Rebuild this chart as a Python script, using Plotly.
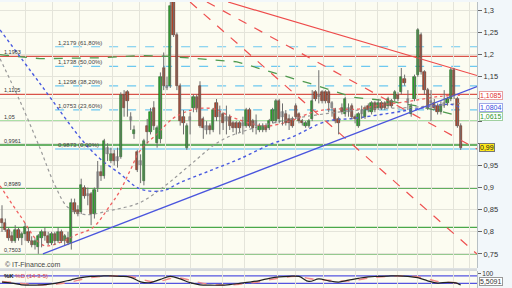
import plotly.graph_objects as go

# ---------------- data ----------------
O = [.83,.82,.805,.79,.78,.805,.785,.795,.80,.78,
     .77,.765,.785,.80,.79,.775,.795,.78,.80,.78,
     .785,.775,.865,.85,.845,.90,.88,.885,.84,.90,
     .935,.925,.99,.96,.975,.96,.97,1.11,1.115,1.06,
     1.02,.98,.96,.915,1.04,1.025,1.08,1.0,1.01,1.17,
     1.13,1.13,1.32,1.245,1.13,1.06,.99,1.06,1.08,1.105,
     1.13,1.055,1.04,1.04,1.03,1.09,1.07,1.065,1.06,1.06,
     1.045,1.045,1.045,1.04,1.04,1.075,1.05,1.04,1.03,1.03,
     1.04,1.035,1.05,1.05,1.095,1.06,1.065,1.055,1.055,1.085,
     1.065,1.05,1.04,1.04,1.055,1.115,1.105,1.115,1.115,1.115,
     1.09,1.075,1.055,1.08,1.065,1.08,1.085,1.06,1.04,1.065,
     1.06,1.085,1.07,1.09,1.08,1.09,1.09,1.085,1.095,1.10,
     1.11,1.115,1.145,1.10,1.065,1.10,1.155,1.245,1.16,1.12,
     1.09,1.09,1.085,1.07,1.085,1.09,1.10,1.165,1.10,1.04]
H = [.86,.83,.81,.80,.815,.81,.80,.82,.81,.79,
     .785,.795,.805,.81,.80,.80,.80,.81,.805,.795,
     .80,.875,.875,.86,.92,.905,.90,.89,.90,.96,
     .95,1.01,1.0,.99,.985,.99,1.115,1.12,1.12,1.07,
     1.04,.985,.975,1.01,1.055,1.08,1.095,1.04,1.16,1.205,
     1.15,1.325,1.325,1.25,1.135,1.075,1.045,1.07,1.11,1.11,
     1.14,1.06,1.05,1.045,1.08,1.10,1.085,1.07,1.085,1.065,
     1.05,1.05,1.05,1.06,1.08,1.08,1.055,1.065,1.045,1.045,
     1.045,1.055,1.08,1.10,1.10,1.09,1.075,1.065,1.06,1.09,
     1.07,1.055,1.05,1.055,1.12,1.12,1.165,1.12,1.12,1.12,
     1.095,1.08,1.06,1.09,1.105,1.09,1.09,1.065,1.07,1.085,
     1.085,1.09,1.095,1.095,1.10,1.095,1.095,1.105,1.10,1.12,
     1.115,1.17,1.155,1.12,1.09,1.155,1.26,1.25,1.165,1.125,
     1.12,1.10,1.09,1.095,1.12,1.105,1.17,1.17,1.105,1.045]
L = [.80,.80,.78,.775,.775,.78,.77,.78,.775,.765,
     .76,.7503,.765,.78,.77,.77,.77,.775,.775,.77,
     .77,.76,.84,.835,.84,.875,.86,.815,.83,.89,
     .915,.92,.96,.955,.95,.945,.965,1.06,1.06,1.03,
     1.01,.935,.91,.905,1.0,1.02,1.03,.99,1.0,1.12,
     1.12,1.125,1.24,1.12,1.04,1.02,.985,1.02,1.07,1.07,
     1.035,1.01,1.02,1.02,1.025,1.05,1.02,1.03,1.02,1.03,
     1.025,1.02,1.025,1.02,1.035,1.035,1.025,1.02,1.025,1.025,
     1.025,1.03,1.045,1.045,1.045,1.04,1.04,1.03,1.035,1.055,
     1.045,1.04,1.035,1.035,1.05,1.095,1.09,1.09,1.09,1.07,
     1.06,1.045,1.02,1.065,1.06,1.06,1.055,1.045,1.035,1.055,
     1.055,1.07,1.065,1.07,1.075,1.075,1.075,1.08,1.08,1.095,
     1.095,1.11,1.13,1.075,1.06,1.095,1.15,1.155,1.11,1.075,
     1.05,1.075,1.065,1.065,1.08,1.085,1.095,1.10,1.035,.985]
C = [.82,.805,.785,.78,.805,.785,.795,.81,.78,.77,
     .78,.79,.80,.79,.775,.795,.78,.80,.78,.79,
     .775,.865,.845,.84,.905,.88,.885,.84,.895,.935,
     .925,1.005,.975,.975,.96,.97,1.11,1.08,1.095,1.05,
     1.03,.94,.95,1.005,1.025,1.07,1.04,1.035,1.15,1.13,
     1.125,1.31,1.245,1.13,1.05,1.045,1.04,1.05,1.105,1.08,
     1.04,1.035,1.03,1.03,1.075,1.06,1.06,1.045,1.05,1.04,
     1.035,1.035,1.035,1.045,1.075,1.04,1.035,1.05,1.04,1.04,
     1.03,1.05,1.075,1.095,1.055,1.07,1.045,1.045,1.04,1.06,
     1.05,1.045,1.045,1.05,1.095,1.10,1.11,1.095,1.095,1.09,
     1.08,1.05,1.045,1.07,1.10,1.07,1.06,1.055,1.065,1.075,
     1.08,1.075,1.09,1.075,1.09,1.08,1.08,1.10,1.085,1.115,
     1.10,1.15,1.135,1.09,1.085,1.15,1.255,1.16,1.12,1.08,
     1.095,1.08,1.07,1.085,1.09,1.10,1.165,1.11,1.04,.99]
neutral = [26, 29, 32, 35, 39, 42, 50, 57, 62, 66, 68, 73, 77, 85, 96, 100, 105, 109, 123, 130, 134]

# moving averages : bar index, price
ma_red_x = [-0.6, 5.45, 12.4, 17.6, 22.1, 27.6, 32.7, 35.8, 38.8, 41.8, 47, 51.8, 56.1, 60, 64.5, 69.1, 75.2, 80.3, 87.3, 93.3, 99.4, 107.6, 114.5, 123.6, 132.7, 138.8]
ma_red_y = [0.904, 0.837, 0.770, 0.776, 0.792, 0.810, 0.859, 0.893, 0.938, 0.983, 1.021, 1.056, 1.072, 1.079, 1.077, 1.061, 1.045, 1.039, 1.050, 1.068, 1.077, 1.077, 1.086, 1.095, 1.106, 1.1085]
ma_blue_x = [-0.6, 11.5, 24.5, 29.7, 35.8, 41.8, 48.8, 53.9, 63, 72.1, 82.1, 87.3, 98.5, 106.4, 117.6, 126.7, 135.8, 138.8]
ma_blue_y = [1.256, 1.135, 1.005, 0.965, 0.931, 0.897, 0.893, 0.911, 0.938, 0.965, 1.000, 1.012, 1.050, 1.056, 1.068, 1.079, 1.088, 1.0804]
ma_gray_x = [-0.6, 5.45, 11.5, 16.1, 20, 25.2, 32.7, 41.8, 49.4, 57, 66.1, 75.2, 87.3, 99.4, 111.5, 123.6, 138.8]
ma_gray_y = [1.191, 1.095, 0.989, 0.904, 0.855, 0.839, 0.848, 0.866, 0.904, 0.951, 1.005, 1.032, 1.054, 1.068, 1.077, 1.081, 1.090]
ma_green_x = [-0.6, 11.5, 29.7, 41.8, 50.9, 71.2, 93.3, 106.4, 117.6, 126.7, 138.8]
ma_green_y = [1.200, 1.191, 1.193, 1.198, 1.196, 1.184, 1.135, 1.104, 1.095, 1.083, 1.0615]

# trend lines (bar index, price) pairs
tl_red_solid = ([68.5, 143.94], [1.319, 1.153])
tl_red_dash_a = ([57.0, 143.94], [1.319, 0.750])
tl_red_dash_b = ([62.1, 143.94], [1.319, 0.987])
tl_blue = ([12.4, 143.94], [0.7503, 1.128])

# horizontal levels
levels_red = [1.1963, 1.1105]
levels_green = [(1.05, "#5cc45c"), (0.9961, "#3a9a3a"), (0.8989, "#2e962e"), (0.81, "#4aa84a"), (0.7503, "#2e962e")]
level_labels = [("1,1963", 1.1963), ("1,1105", 1.1105), ("1,05", 1.05), ("0,9961", 0.9961), ("0,8989", 0.8989), ("0,7503", 0.7503)]
fib_levels = [1.2179, 1.1738, 1.1298, 1.0753]
fib_labels = ["1,2179 (61,80%)", "1,1738 (50,00%)", "1,1298 (38,20%)", "1,0753 (23,60%)"]
fib_base = 0.9873
fib_base_label = "0,9873 (0,00%)"
fib_start = 16.1

# stochastic %K / %D
st_x = [0,3,6,9,12,15,18,21,24,27,30,33,36,39,42,45,48,51,54,57,60,63,66,69,72,75,78,81,84,87,90,93,96,99,102,105,108,111,114,117,120,123,126,129,132,135,138,139]
st_k = [30,22,8,5,8,15,30,48,65,75,78,80,76,68,32,26,52,75,55,25,8,5,5,10,20,30,42,60,72,76,75,35,55,40,30,45,60,72,75,78,80,76,65,40,22,28,20,5.5]
st_d = [35,28,18,10,7,10,18,32,50,65,74,78,78,74,55,35,38,58,62,45,25,12,6,7,13,22,33,48,62,72,75,58,48,45,40,38,48,62,70,76,78,78,72,55,35,28,24,20]

ytick_vals = [0.75, 0.8, 0.85, 0.9, 0.95, 1.0, 1.05, 1.1, 1.15, 1.2, 1.25, 1.3]
ytick_text = ["0,75", "0,8", "0,85", "0,9", "0,95", "", "", "", "1,15", "1,2", "1,25", "1,3"]
xgrid = [7.0, 15.2, 23.6, 33.6, 41.8, 49.4, 57.0, 66.7, 73.6, 83.6, 88.8, 97.3, 107.0, 113.9, 119.7, 125.8, 130.3, 136.7, 141.8]

# ---------------- figure ----------------
W, Hh = 512, 288
XR = [-0.606, 143.94]
FONT = "Liberation Sans"
fig = go.Figure()

idx = list(range(len(C)))

# moving averages
fig.add_trace(go.Scatter(x=ma_green_x, y=ma_green_y, mode="lines", line=dict(color="#4f9a4f", width=1.3, dash="dash"), hoverinfo="skip"))
fig.add_trace(go.Scatter(x=ma_gray_x, y=ma_gray_y, mode="lines", line_shape="spline", line=dict(color="#999999", width=1.2, dash="dot"), hoverinfo="skip"))
fig.add_trace(go.Scatter(x=ma_blue_x, y=ma_blue_y, mode="lines", line_shape="spline", line=dict(color="#4a5be0", width=1.4, dash="dot"), hoverinfo="skip"))
fig.add_trace(go.Scatter(x=ma_red_x, y=ma_red_y, mode="lines", line_shape="spline", line=dict(color="#f06060", width=1.3, dash="dot"), hoverinfo="skip"))

# trend lines
fig.add_trace(go.Scatter(x=tl_red_solid[0], y=tl_red_solid[1], mode="lines", line=dict(color="#ee4a4a", width=1.2), hoverinfo="skip"))
fig.add_trace(go.Scatter(x=tl_red_dash_a[0], y=tl_red_dash_a[1], mode="lines", line=dict(color="#ee5050", width=1.2, dash="dash"), hoverinfo="skip"))
fig.add_trace(go.Scatter(x=tl_red_dash_b[0], y=tl_red_dash_b[1], mode="lines", line=dict(color="#ee5050", width=1.2, dash="dash"), hoverinfo="skip"))
fig.add_trace(go.Scatter(x=tl_blue[0], y=tl_blue[1], mode="lines", line=dict(color="#4a55dd", width=1.2), hoverinfo="skip"))

# candles: wicks
wx, wy = [], []
for i in idx:
    wx += [i, i, None]
    wy += [L[i], H[i], None]
fig.add_trace(go.Scatter(x=wx, y=wy, mode="lines", line=dict(color="#6e6e6e", width=1), hoverinfo="skip"))

groups = {"up": [], "down": [], "flat": []}
for i in idx:
    if i in neutral:
        groups["flat"].append(i)
    elif C[i] >= O[i]:
        groups["up"].append(i)
    else:
        groups["down"].append(i)
styles = {"up": ("#25ab25", "#1d5e1d"), "down": ("#b8462c", "#5a2a1c"), "flat": ("#b4b4b4", "#8a8a8a")}
for k, ids in groups.items():
    fill, edge = styles[k]
    fig.add_trace(go.Bar(x=ids, y=[C[i] - O[i] if abs(C[i] - O[i]) > 0.002 else 0.004 for i in ids],
                         base=[O[i] if abs(C[i] - O[i]) > 0.002 else O[i] - 0.002 for i in ids],
                         width=0.72, marker=dict(color=fill, line=dict(color=edge, width=0.6)),
                         hoverinfo="skip"))

# stochastic
fig.add_trace(go.Scatter(x=st_x, y=st_d, xaxis="x2", yaxis="y2", mode="lines", line_shape="spline",
                         line=dict(color="#f08a8a", width=1.4, dash="dash"), hoverinfo="skip"))
fig.add_trace(go.Scatter(x=st_x, y=st_k, xaxis="x2", yaxis="y2", mode="lines", line_shape="spline",
                         line=dict(color="#222222", width=1.2), hoverinfo="skip"))

shapes = []
for lv in levels_red:
    shapes.append(dict(type="line", xref="x domain", yref="y", x0=0, x1=1, y0=lv, y1=lv, layer="below",
                       line=dict(color="#d9534a", width=1.2)))
for lv, col in levels_green:
    shapes.append(dict(type="line", xref="x domain", yref="y", x0=0, x1=1, y0=lv, y1=lv, layer="below",
                       line=dict(color=col, width=1.3)))
for lv in fib_levels:
    shapes.append(dict(type="line", xref="x", yref="y", x0=fib_start, x1=XR[1], y0=lv, y1=lv, layer="below",
                       line=dict(color="#6cc8f0", width=1.2, dash="dash")))
shapes.append(dict(type="line", xref="x", yref="y", x0=fib_start, x1=XR[1], y0=fib_base, y1=fib_base, layer="below",
                   line=dict(color="#a8dcf2", width=2)))
# stochastic bands
for lv in [80, 20]:
    shapes.append(dict(type="line", xref="x2 domain", yref="y2", x0=0, x1=1, y0=lv, y1=lv, layer="below",
                       line=dict(color="#5555e0", width=1.2)))
# pane separator
shapes.append(dict(type="rect", xref="paper", yref="paper", x0=0, x1=477 / W, y0=17 / Hh, y1=20 / Hh,
                   fillcolor="#d6dadc", line=dict(width=0), layer="above"))

ann = []
for txt, lv in level_labels:
    ann.append(dict(xref="paper", yref="y", x=0.004, y=lv, text=txt, showarrow=False, xanchor="left",
                    yanchor="bottom", yshift=-1, font=dict(family=FONT, size=5.5, color="#333333")))
for txt, lv in zip(fib_labels + [fib_base_label], fib_levels + [fib_base]):
    ann.append(dict(xref="x", yref="y", x=fib_start + 0.3, y=lv, text=txt, showarrow=False, xanchor="left",
                    yanchor="bottom", yshift=-1, font=dict(family=FONT, size=6, color="#444444")))
boxes = [("1,1085", 1.1085, "#e03030", "#ffffff", "#e8a0a0"),
         ("1,0804", 1.0804, "#3a4ae0", "#ffffff", "#a0a8e8"),
         ("1,0615", 1.0615, "#2e962e", "#ffffff", "#a0d0a0"),
         ("0,99", 0.99, "#222222", "#ffe81a", "#777777")]
for txt, lv, col, bg, bc in boxes:
    ann.append(dict(xref="paper", yref="y", x=479 / W, y=lv, text=txt, showarrow=False, xanchor="left",
                    yanchor="middle", bgcolor=bg, bordercolor=bc, borderwidth=1, borderpad=0,
                    font=dict(family=FONT, size=7, color=col)))
ann.append(dict(xref="paper", yref="paper", x=479 / W, y=7 / Hh, text="5,5091", showarrow=False, xanchor="left",
                yanchor="middle", bgcolor="#ffffff", bordercolor="#999999", borderwidth=1, borderpad=0,
                font=dict(family=FONT, size=7, color="#333333")))
ann.append(dict(xref="paper", yref="paper", x=3 / W, y=(Hh - 264) / Hh, text="\u00a9 IT-Finance.com", showarrow=False,
                xanchor="left", yanchor="middle", font=dict(family=FONT, size=7, color="#444444")))
ann.append(dict(xref="paper", yref="paper", x=2 / W, y=(Hh - 276) / Hh,
                text="<b>%K</b> <span style='color:#e04848'>%D (14-3-5)</span>", showarrow=False,
                xanchor="left", yanchor="middle", font=dict(family=FONT, size=6, color="#222222")))

fig.update_layout(
    width=W, height=Hh, margin=dict(l=0, r=0, t=0, b=0),
    paper_bgcolor="#f2f7fa", plot_bgcolor="#fcfcf1",
    showlegend=False, barmode="overlay", bargap=0,
    xaxis=dict(domain=[0, 477 / W], range=XR, showticklabels=False, ticks="", tickvals=xgrid,
               showgrid=True, gridcolor="#e4e4da", gridwidth=1, zeroline=False, showline=False,
               rangeslider=dict(visible=False), fixedrange=True, anchor="y"),
    yaxis=dict(domain=[20 / Hh, 1], range=[0.718, 1.319], side="right", tickvals=ytick_vals, ticktext=ytick_text,
               showgrid=True, gridcolor="#e4e4da", zeroline=False, showline=True, linecolor="#b8c0c4",
               ticks="outside", ticklen=4, tickcolor="#666666",
               tickfont=dict(family=FONT, size=7.5, color="#333333"), anchor="x"),
    xaxis2=dict(domain=[0, 477 / W], range=XR, showticklabels=False, ticks="", tickvals=xgrid,
                showgrid=True, gridcolor="#e4e4da", zeroline=False, anchor="y2", matches="x"),
    yaxis2=dict(domain=[0, 17 / Hh], range=[-17.5, 117.5], side="right", tickvals=[100], ticktext=["100"],
                showgrid=False, zeroline=False, showline=True, linecolor="#b8c0c4",
                ticks="outside", ticklen=3, tickcolor="#666666",
                tickfont=dict(family=FONT, size=6.5, color="#333333"), anchor="x2"),
    shapes=shapes, annotations=ann,
)

fig.write_html("out.html", config={"displayModeBar": False})
